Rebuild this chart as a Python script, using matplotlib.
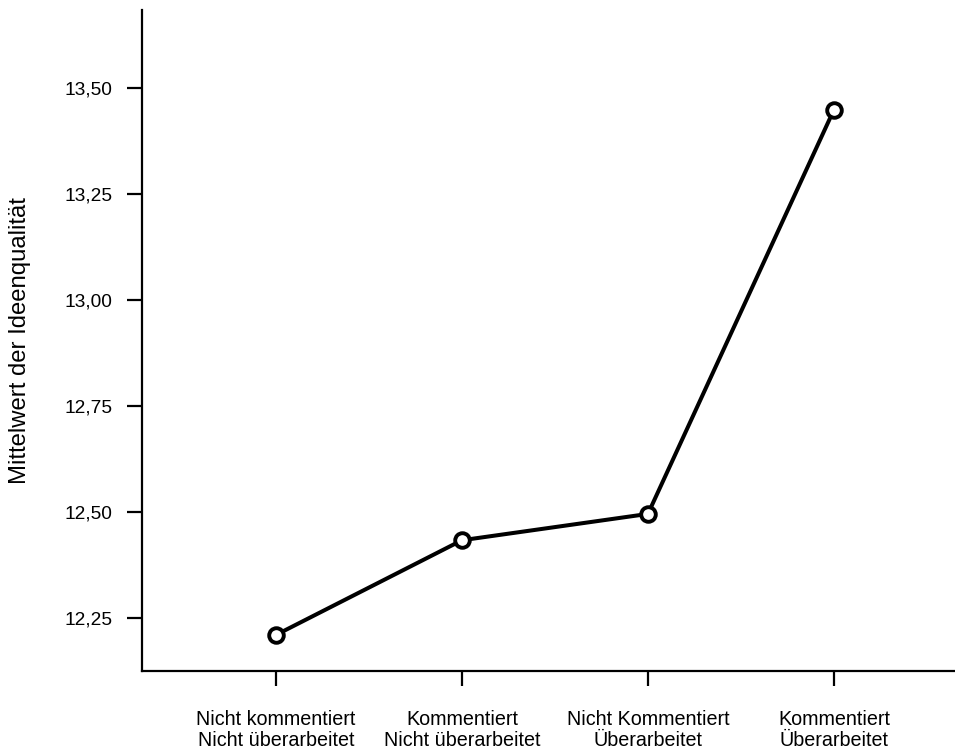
import matplotlib
matplotlib.use("Agg")
import matplotlib.pyplot as plt
from matplotlib.ticker import FixedLocator, FuncFormatter

plt.rcParams['font.family'] = ['Liberation Sans', 'DejaVu Sans']

categories = [
    "Nicht kommentiert\nNicht überarbeitet",
    "Kommentiert\nNicht überarbeitet",
    "Nicht Kommentiert\nÜberarbeitet",
    "Kommentiert\nÜberarbeitet",
]
means = [12.211, 12.434, 12.496, 13.448]
y_ticks = [12.25, 12.50, 12.75, 13.00, 13.25, 13.50]
y_label = "Mittelwert der Ideenqualität"

fig = plt.figure(figsize=(9.55, 7.52), dpi=100)
ax = fig.add_axes([0.1487, 0.1077, 0.8513, 0.879])

x = list(range(len(categories)))
ax.plot(x, means, color="black", lw=2.9, marker="o", markersize=10.5,
        markerfacecolor="white", markeredgecolor="black", markeredgewidth=2.8,
        solid_joinstyle="miter", zorder=3, clip_on=False)

ax.set_xlim(-0.72, 3.651)
ax.set_ylim(12.126, 13.683)

ax.set_xticks(x)
ax.set_xticklabels(categories, fontsize=14.2, linespacing=1.12)
ax.yaxis.set_major_locator(FixedLocator(y_ticks))
ax.yaxis.set_major_formatter(FuncFormatter(lambda v, p: f"{v:.2f}".replace(".", ",")))
ax.tick_params(axis="y", labelsize=13.8, length=11, width=1.6, pad=10)
ax.tick_params(axis="x", length=11, width=1.6, pad=17)

for side in ("top", "right"):
    ax.spines[side].set_visible(False)
for side in ("left", "bottom"):
    ax.spines[side].set_linewidth(1.6)

ax.set_ylabel(y_label, fontsize=17.2)
ax.yaxis.set_label_coords(-0.137, 0.5)

fig.savefig("out.png", dpi=100)
